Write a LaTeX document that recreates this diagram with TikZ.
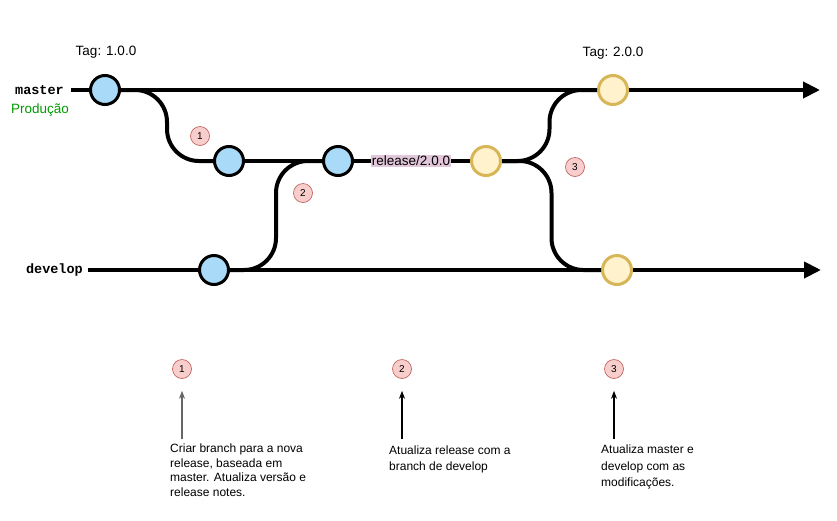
\documentclass[tikz,border=0pt]{standalone}
\usepackage{fontspec}
\setmainfont{Liberation Sans}
\setmonofont{Liberation Mono}
\usetikzlibrary{arrows.meta,calc}

\definecolor{commitblue}{HTML}{A9DAF8}
\definecolor{tagfill}{HTML}{FFF2CC}
\definecolor{tagborder}{HTML}{D6B656}
\definecolor{bubblefill}{HTML}{F8CECC}
\definecolor{bubbleborder}{HTML}{B85450}
\definecolor{releasebg}{HTML}{E2C6DA}
\definecolor{prodgreen}{HTML}{009900}

\tikzset{
  commit/.style={circle, draw=black, line width=3pt, fill=commitblue, minimum size=29pt, inner sep=0pt},
  relcommit/.style={commit, draw=tagborder, fill=tagfill},
  branchline/.style={line width=4pt},
  flow/.style={branchline, rounded corners=32pt},
  bubble/.style={circle, draw=bubbleborder, fill=bubblefill, line width=0.6pt, minimum size=19pt, inner sep=0pt, font=\fontsize{10}{12}\selectfont},
  note/.style={align=left, anchor=north west, inner sep=0pt, font=\fontsize{12}{14.5}\selectfont},
  pointer/.style={-{Stealth[length=8pt,width=6pt]}, line width=1.2pt, shorten >=12pt},
  biglabel/.style={font=\fontsize{13.5}{16}\selectfont},
  branchname/.style={anchor=east, inner sep=0pt, font=\ttfamily\bfseries\fontsize{13.5}{16}\selectfont},
  bigtip/.style={-{Triangle[length=17pt,width=16pt]}}
}

\begin{document}
\begin{tikzpicture}[x=1pt, y=-1pt]
  \useasboundingbox (0,0) rectangle (837,520);

  % branch names
  \node[branchname] (master) at (64,90) {master};
  \node[biglabel, text=prodgreen] (prod) at (40,110) {Produção};
  \node[branchname] (develop) at (83,270) {develop};

  % commits
  \node[commit] (m1) at (105,90) {};
  \node[commit] (r1) at (229,161) {};
  \node[commit] (r2) at (338,161) {};
  \node[relcommit] (r3) at (486,161) {};
  \node[relcommit] (m2) at (613,90) {};
  \node[commit] (d1) at (214,270) {};
  \node[relcommit] (d2) at (617,270) {};
  \node[biglabel, fill=releasebg, inner sep=1pt] (rel) at (411,161) {release/2.0.0};

  \node[biglabel] (tag1) at (106,52) {Tag: 1.0.0};
  \node[biglabel] (tag2) at (613,53) {Tag: 2.0.0};

  \coordinate (mend) at (820,90);
  \coordinate (dend) at (821,270);

  % main lines
  \draw[branchline, shorten <=7pt] (master) -- (m1);
  \draw[branchline] (m1) -- (m2);
  \draw[branchline, bigtip] (m2) -- (mend);
  \draw[branchline, shorten <=5pt] (develop) -- (d1);
  \draw[branchline] (d1) -- (d2);
  \draw[branchline, bigtip] (d2) -- (dend);
  \draw[branchline] (r1) -- (r2);
  \draw[branchline] (r2) -- (rel);
  \draw[branchline] (rel) -- (r3);

  % merges
  \coordinate (k1) at ($(m1.east)!0.5!(r1.west)$);
  \coordinate (k2) at ($(d1.east)!0.5!(r2.west)$);
  \coordinate (k3) at ($(r3.east)!0.5!(m2.west)$);
  \coordinate (k4) at ($(r3.east)!0.5!(d2.west)$);
  \draw[flow] (m1.east) -- (k1 |- m1.east) -- (k1 |- r1.west) -- (r1.west);
  \draw[flow] (d1.east) -- (k2 |- d1.east) -- (k2 |- r2.west) -- (r2.west);
  \draw[flow] (r3.east) -- (k3 |- r3.east) -- (k3 |- m2.west) -- (m2.west);
  \draw[flow] (r3.east) -- (k4 |- r3.east) -- (k4 |- d2.west) -- (d2.west);

  % step markers
  \node[bubble] (n1) at (200,136) {1};
  \node[bubble] (n2) at (303,193) {2};
  \node[bubble] (n3) at (575,167) {3};

  \node[bubble] (b1) at (182,369) {1};
  \node[bubble] (b2) at (402,369) {2};
  \node[bubble] (b3) at (614,369) {3};

  \coordinate (a1) at (182,439);
  \coordinate (a2) at (402,439);
  \coordinate (a3) at (614,439);
  \draw[pointer, draw=black!60, fill=black!60] (a1) -- (b1);
  \draw[pointer] (a2) -- (b2);
  \draw[pointer] (a3) -- (b3);

  \node[note] (t1) at (170,444) {Criar branch para a nova\\release, baseada em\\master. Atualiza versão e\\release notes.};
  \node[note, font=\fontsize{12}{16}\selectfont] (t2) at (389,446) {Atualiza release com a\\branch de develop};
  \node[note, font=\fontsize{12}{16.5}\selectfont] (t3) at (601,445) {Atualiza master e\\develop com as\\modificações.};
\end{tikzpicture}
\end{document}
